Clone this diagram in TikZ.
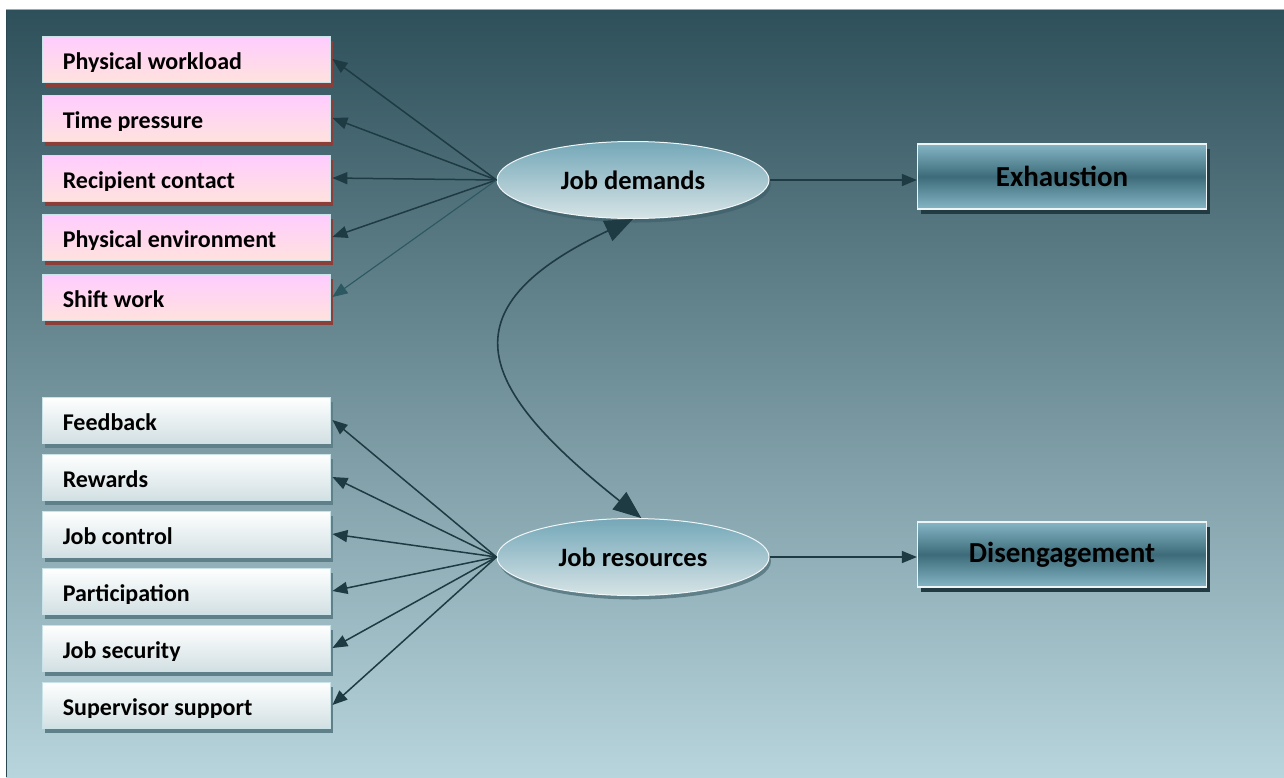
\documentclass[tikz,border=0pt]{standalone}
\usepackage{fontspec}
\setmainfont{Carlito}
\usetikzlibrary{shapes.geometric,arrows.meta,calc,shadows}

\definecolor{bgtop}{HTML}{2E505A}
\definecolor{bgmid}{HTML}{7197A2}
\definecolor{bgbot}{HTML}{B8D5DD}
\definecolor{pinktop}{HTML}{FFCCFF}
\definecolor{pinkbot}{HTML}{FFE2DE}
\definecolor{pinkshadow}{HTML}{8C3F38}
\definecolor{whitetop}{HTML}{FFFFFF}
\definecolor{whitebot}{HTML}{D2E0E3}
\definecolor{whiteshadow}{HTML}{5F8089}
\definecolor{boxedge}{HTML}{C9E3E8}
\definecolor{elltop}{HTML}{74A7B8}
\definecolor{ellbot}{HTML}{D6E4E6}
\definecolor{ellshadow}{HTML}{3B5D67}
\definecolor{outtop}{HTML}{85B6C6}
\definecolor{outmid}{HTML}{3D6B79}
\definecolor{outshadow}{HTML}{223A41}
\definecolor{arrowcol}{HTML}{1E3A42}
\definecolor{arrowlight}{HTML}{2C5862}

\tikzset{
  x=1pt, y=-1pt,
  leftbox/.style={rectangle, minimum width=288pt, minimum height=46pt,
    inner sep=0pt, draw=boxedge, line width=0.8pt},
  demandbox/.style={leftbox, top color=pinktop, bottom color=pinkbot,
    general shadow={fill=pinkshadow, shadow xshift=3pt, shadow yshift=-5pt}},
  resourcebox/.style={leftbox, top color=whitetop, bottom color=whitebot,
    general shadow={fill=whiteshadow, shadow xshift=3pt, shadow yshift=-5pt}},
  boxtext/.style={anchor=base west, inner sep=0pt, text=black,
    font=\fontsize{24}{28}\selectfont\bfseries},
  latent/.style={ellipse, minimum width=272pt, minimum height=77pt, inner sep=0pt,
    draw=white!90!elltop, line width=1pt, top color=elltop, bottom color=ellbot,
    general shadow={fill=ellshadow, shadow xshift=2pt, shadow yshift=-4pt, opacity=.6},
    font=\fontsize{26.5}{30}\selectfont\bfseries, text=black},
  outcome/.style={rectangle, minimum width=289pt, minimum height=65pt, inner sep=0pt,
    draw=white!85!outtop, line width=1.2pt,
    top color=outtop, bottom color=outtop, middle color=outmid,
    general shadow={fill=outshadow, shadow xshift=3pt, shadow yshift=-5pt},
    font=\fontsize{29}{33}\selectfont\bfseries, text=black},
  fan/.style={draw=arrowcol, line width=1.5pt, -{Triangle[length=15pt,width=12pt]}},
  path/.style={draw=arrowcol, line width=1.5pt, -{Triangle[length=15pt,width=12pt]}},
  corr/.style={draw=arrowcol, line width=1.6pt,
    {Triangle[length=28pt,width=22pt]}-{Triangle[length=28pt,width=22pt]}}
}

\begin{document}
\begin{tikzpicture}
\useasboundingbox (0,0) rectangle (1284,777);
\fill[white] (0,0) rectangle (1284,777);

% backdrop panel
\shade[top color=bgtop, middle color=bgmid, bottom color=bgbot] (6,10) rectangle (1284,777);
\draw[black!35, line width=1pt] (6,9.5) -- (1284,9.5);
\draw[bgtop!90!black, line width=1.5pt] (6.5,10) -- (6.5,777);

% job demand indicators
\foreach \n/\y/\t in {pw/59/Physical workload, tp/118/Time pressure,
    rc/178/Recipient contact, pe/237/Physical environment, sw/297/Shift work}{
  \node[demandbox] (\n) at (186,\y) {};
  \begin{scope}
    \clip (\n.north west) rectangle ($(\n.south east)+(0,-11)$);
    \node[boxtext] at ($(\n.south west)+(21,-13)$) {\t};
  \end{scope}
}

% job resource indicators
\foreach \n/\y/\t in {fb/420/Feedback, rw/477/Rewards, jc/534/Job control,
    pa/591/Participation, js/648/Job security, ss/705/Supervisor support}{
  \node[resourcebox] (\n) at (186,\y) {};
  \begin{scope}
    \clip (\n.north west) rectangle ($(\n.south east)+(0,-11)$);
    \node[boxtext] at ($(\n.south west)+(21,-13)$) {\t};
  \end{scope}
}

% latent factors
\node[latent] (jd) at (633,180) {Job demands};
\node[latent] (jr) at (633,557) {Job resources};

% outcomes
\node[outcome] (ex) at (1062,176.5) {Exhaustion};
\node[outcome] (de) at (1062,554.5) {Disengagement};

% loadings
\foreach \n in {pw,tp,rc,pe}{ \draw[fan] (jd.west) -- ($(\n.east)+(2,0)$); }
\draw[fan, draw=arrowlight, line width=1.1pt] (jd.west) -- ($(sw.east)+(2,0)$);
\foreach \n in {fb,rw,jc,pa,js,ss}{ \draw[fan] (jr.west) -- ($(\n.east)+(2,0)$); }

% structural paths
\draw[path] (jd.east) -- (jd.east -| ex.west);
\draw[path] (jr.east) -- (jr.east -| de.west);

% correlation between demands and resources
\draw[corr] (jd.south) .. controls (440,310) and (480,390) .. (jr.78);
\end{tikzpicture}
\end{document}
